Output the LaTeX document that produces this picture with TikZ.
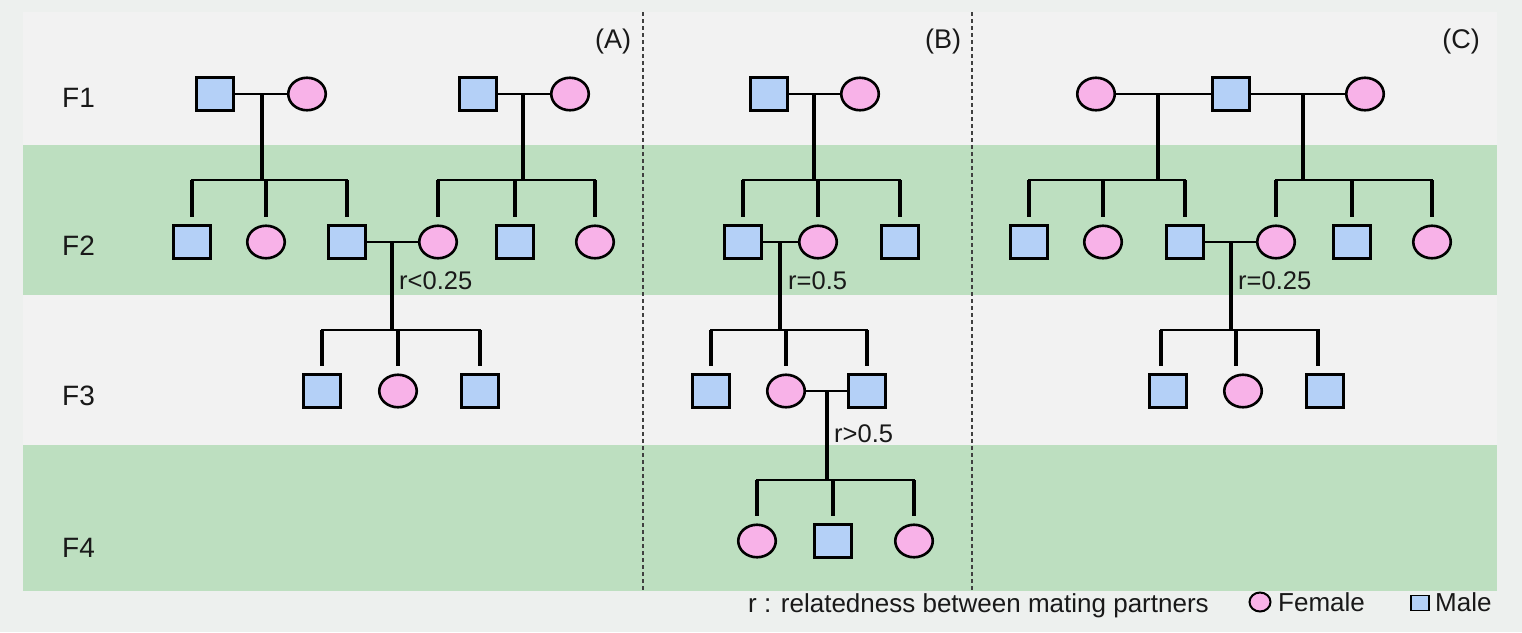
\documentclass[tikz,border=0pt]{standalone}
\usepackage{fontspec}
\setmainfont{Liberation Sans}
\usetikzlibrary{shapes.geometric}
\definecolor{outerbg}{RGB}{237,240,238}
\definecolor{rowgray}{RGB}{242,242,242}
\definecolor{rowgreen}{RGB}{189,223,192}
\definecolor{maleblue}{RGB}{180,208,247}
\definecolor{femalepink}{RGB}{248,178,232}
\definecolor{txt}{RGB}{25,25,25}
\tikzset{
  male/.style={draw=black, line width=2.6pt, fill=maleblue, rectangle, minimum width=36.5pt, minimum height=32.5pt, inner sep=0pt},
  female/.style={draw=black, line width=2.6pt, fill=femalepink, ellipse, minimum width=37.5pt, minimum height=32.5pt, inner sep=0pt},
  couple/.style={line width=2.6pt},
  thincouple/.style={line width=1.6pt},
  stem/.style={line width=3.2pt},
  sibbar/.style={line width=2.6pt, line cap=rect},
  drop/.style={line width=3.2pt, shorten >=7pt},
  genlab/.style={text=txt, font=\fontsize{28}{32}\selectfont, inner sep=0pt, anchor=base west},
  rlab/.style={text=txt, font=\fontsize{25.5}{29}\selectfont, inner sep=0pt, anchor=base west},
  panellab/.style={text=txt, font=\fontsize{27}{31}\selectfont, inner sep=0pt, anchor=base},
  leglab/.style={text=txt, font=\fontsize{26}{30}\selectfont, inner sep=0pt, anchor=base west},
  divider/.style={draw=black!75, line width=1.4pt, dash pattern=on 4pt off 3pt},
}
\begin{document}
\begin{tikzpicture}[x=1pt, y=-1pt]
\useasboundingbox (0,0) rectangle (1522,632);
% backgrounds
\fill[outerbg] (0,0) rectangle (1522,632);
\fill[rowgray] (23,12) rectangle (1497,145);
\fill[rowgreen] (23,145) rectangle (1497,295);
\fill[rowgray] (23,295) rectangle (1497,445);
\fill[rowgreen] (23,445) rectangle (1497,591);
\draw[divider] (643,12) -- (643,591);
\draw[divider] (972,12) -- (972,591);

% generation labels
\node[genlab] (gF1) at (62,107) {F1};
\node[genlab] (gF2) at (62,255) {F2};
\node[genlab] (gF3) at (62,405) {F3};
\node[genlab] (gF4) at (62,557) {F4};

% panel labels
\node[panellab] (pA) at (613,48) {(A)};
\node[panellab] (pB) at (943,48) {(B)};
\node[panellab] (pC) at (1461,48) {(C)};

% ===================== Panel A =====================
\node[male] (A1m) at (215,94) {};
\node[female] (A1f) at (307,94) {};
\node[male] (A2m) at (478,94) {};
\node[female] (A2f) at (570,94) {};
\node[male] (A21) at (192,242) {};
\node[female] (A22) at (266,242) {};
\node[male] (A23) at (347,242) {};
\node[female] (A24) at (438,242) {};
\node[male] (A25) at (515,242) {};
\node[female] (A26) at (595,242) {};
\node[male] (A31) at (322,391) {};
\node[female] (A32) at (398,391) {};
\node[male] (A33) at (480,391) {};

\draw[couple] (A1m) -- (A1f);
\coordinate (jA1) at (262,94);
\coordinate (kA1) at (262,180);
\draw[stem] (jA1) -- (kA1);
\draw[sibbar] (A21.north |- kA1) -- (A23.north |- kA1);
\foreach \n in {A21,A22,A23} \draw[drop] (\n.north |- kA1) -- (\n.north);

\draw[couple] (A2m) -- (A2f);
\coordinate (jA2) at (523,94);
\coordinate (kA2) at (523,180);
\draw[stem] (jA2) -- (kA2);
\draw[sibbar] (A24.north |- kA2) -- (A26.north |- kA2);
\foreach \n in {A24,A25,A26} \draw[drop] (\n.north |- kA2) -- (\n.north);

\draw[couple] (A23) -- (A24);
\coordinate (jA3) at (392,242);
\coordinate (kA3) at (392,330);
\draw[stem] (jA3) -- (kA3);
\draw[sibbar] (A31.north |- kA3) -- (A33.north |- kA3);
\foreach \n in {A31,A32,A33} \draw[drop] (\n.north |- kA3) -- (\n.north);
\node[rlab] (rA) at (399,289) {r<0.25};

% ===================== Panel B =====================
\node[male] (B1m) at (769,94) {};
\node[female] (B1f) at (860,94) {};
\node[male] (B21) at (743,242) {};
\node[female] (B22) at (818,242) {};
\node[male] (B23) at (900,242) {};
\node[male] (B31) at (711,391) {};
\node[female] (B32) at (786,391) {};
\node[male] (B33) at (867,391) {};
\node[female] (B41) at (757,541) {};
\node[male] (B42) at (833,541) {};
\node[female] (B43) at (914,541) {};

\draw[thincouple] (B1m) -- (B1f);
\coordinate (jB1) at (814,94);
\coordinate (kB1) at (814,180);
\draw[stem] (jB1) -- (kB1);
\draw[sibbar] (B21.north |- kB1) -- (B23.north |- kB1);
\foreach \n in {B21,B22,B23} \draw[drop] (\n.north |- kB1) -- (\n.north);

\draw[thincouple] (B21) -- (B22);
\coordinate (jB2) at (780,242);
\coordinate (kB2) at (780,330);
\draw[stem] (jB2) -- (kB2);
\draw[sibbar] (B31.north |- kB2) -- (B33.north |- kB2);
\foreach \n in {B31,B32,B33} \draw[drop] (\n.north |- kB2) -- (\n.north);
\node[rlab] (rB1) at (788,289) {r=0.5};

\draw[thincouple] (B32) -- (B33);
\coordinate (jB3) at (827,391);
\coordinate (kB3) at (827,480);
\draw[stem] (jB3) -- (kB3);
\draw[sibbar] (B41.north |- kB3) -- (B43.north |- kB3);
\foreach \n in {B41,B42,B43} \draw[drop] (\n.north |- kB3) -- (\n.north);
\node[rlab] (rB2) at (834,442) {r>0.5};

% ===================== Panel C =====================
\node[female] (C1f) at (1096,94) {};
\node[male] (C1m) at (1231,94) {};
\node[female] (C1g) at (1365,94) {};
\node[male] (C21) at (1029,242) {};
\node[female] (C22) at (1103,242) {};
\node[male] (C23) at (1185,242) {};
\node[female] (C24) at (1276,242) {};
\node[male] (C25) at (1352,242) {};
\node[female] (C26) at (1432,242) {};
\node[male] (C31) at (1168,391) {};
\node[female] (C32) at (1243,391) {};
\node[male] (C33) at (1325,391) {};

\draw[couple] (C1f) -- (C1m);
\draw[couple] (C1m) -- (C1g);
\coordinate (jC1) at (1158,94);
\coordinate (kC1) at (1158,180);
\draw[stem] (jC1) -- (kC1);
\draw[sibbar] (C21.north |- kC1) -- (C23.north |- kC1);
\foreach \n in {C21,C22,C23} \draw[drop] (\n.north |- kC1) -- (\n.north);

\coordinate (jC2) at (1303,94);
\coordinate (kC2) at (1303,180);
\draw[stem] (jC2) -- (kC2);
\draw[sibbar] (C24.north |- kC2) -- (C26.north |- kC2);
\foreach \n in {C24,C25,C26} \draw[drop] (\n.north |- kC2) -- (\n.north);

\draw[couple] (C23) -- (C24);
\coordinate (jC3) at (1231,242);
\coordinate (kC3) at (1231,330);
\draw[stem] (jC3) -- (kC3);
\draw[sibbar] ([xshift=-7pt]C31.north |- kC3) -- ([xshift=-6pt]C33.north |- kC3);
\foreach \n in {C31,C32,C33} \draw[drop] ([xshift=-7pt]\n.north |- kC3) -- ([xshift=-7pt]\n.north);
\node[rlab] (rC) at (1238,289) {r=0.25};

% ===================== Legend =====================
\node[leglab] (legr) at (748,612) {r : relatedness between mating partners};
\node[female, minimum width=21pt, minimum height=19pt, line width=2pt] (legf) at (1260,602) {};
\node[leglab] (legft) at (1278,611) {Female};
\node[male, minimum width=18pt, minimum height=15pt, line width=1.5pt] (legm) at (1420,603) {};
\node[leglab] (legmt) at (1435,611) {Male};
\end{tikzpicture}
\end{document}
